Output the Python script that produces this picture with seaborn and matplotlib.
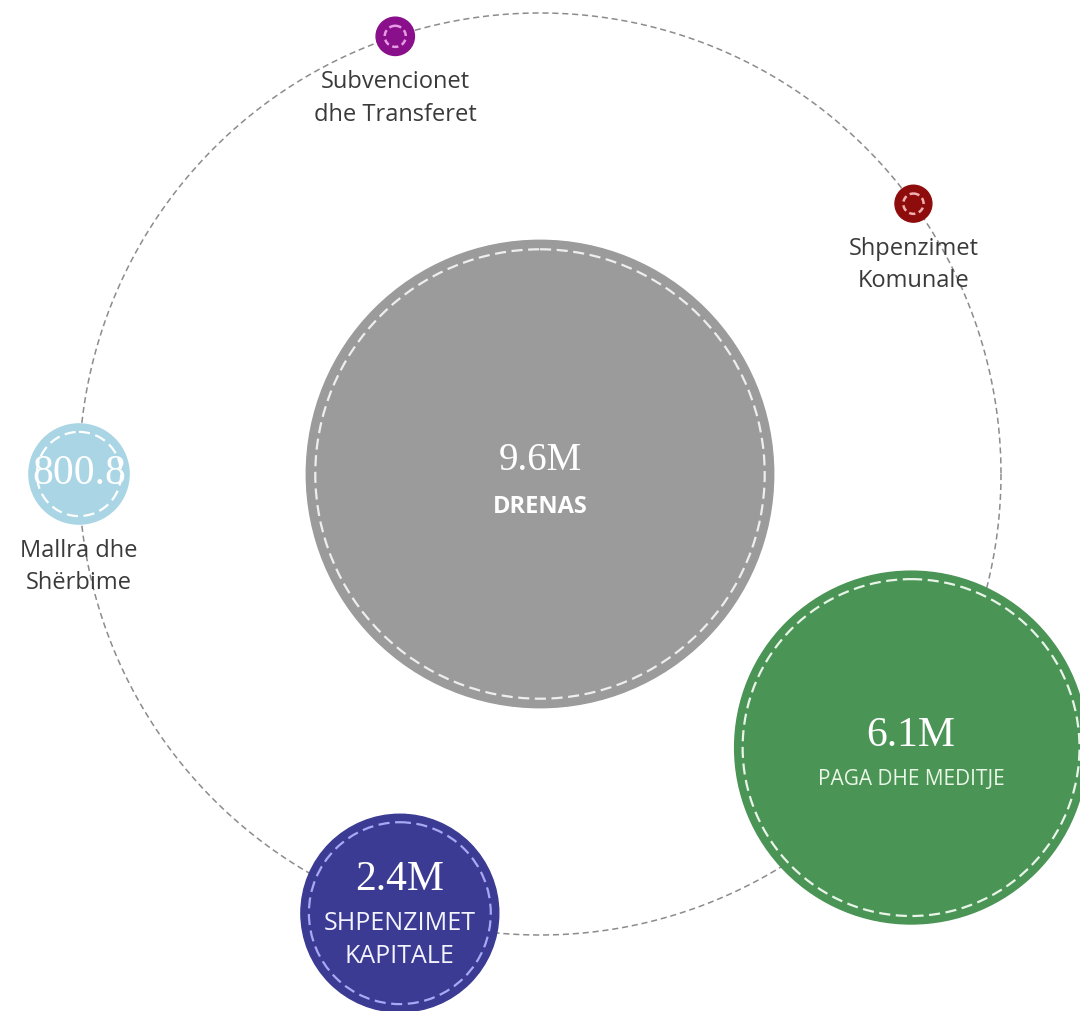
import matplotlib.pyplot as plt
import numpy as np
import seaborn as sns
from matplotlib.patches import Circle

# Drenas municipal budget, millions of euro
total_name = "DRENAS"
total_value = 9.6
total_label = "9.6M"

categories = ["Subvencionet\ndhe Transferet", "Shpenzimet\nKomunale", "Mallra dhe\nShërbime",
              "SHPENZIMET\nKAPITALE", "PAGA DHE MEDITJE"]
values = [0.17, 0.16, 0.8008, 2.4, 6.1]
value_labels = ["", "", "800.8", "2.4M", "6.1M"]

# layout (pixels) and style
W, H = 1080, 1011
cx, cy, orbit_r = 540, 474, 461
angles = [108.3, 35.9, 180.0, 252.3, 323.6]
colors = ["#8a0f8a", "#8e0c0c", "#a9d5e5", "#3b3b94", "#4a9455"]
ring_colors = ["#e69be6", "#f0b0b0", "#ffffff", "#a8a8f5", "#e8f5e8"]
text_colors = ["#3a3a3a", "#3a3a3a", "#3a3a3a", "#f4f4ff", "#eaf7e6"]
# vertical offsets of value / category text from bubble centre (None = below bubble)
val_dy = [None, None, 0, -33, -12]
cat_dy = [None, None, None, 27, 32]
cat_size = [17, 17, 17, 18, 15]
serif = ['Liberation Serif', 'DejaVu Serif']


def radius(v):
    # power scale for bubble size
    return 57.5 * v ** 0.62


sns.set_theme(style="white")
plt.rcParams['font.family'] = ['Open Sans', 'DejaVu Sans']

fig = plt.figure(figsize=(W / 100, H / 100), dpi=100)
ax = fig.add_axes([0, 0, 1, 1])
ax.set_xlim(0, W)
ax.set_ylim(H, 0)
ax.set_aspect('equal')
ax.axis('off')

# orbit
t = np.linspace(0, 2 * np.pi, 400)
ax.plot(cx + orbit_r * np.cos(t), cy + orbit_r * np.sin(t), color="#8c8c8c", lw=1.1,
        ls=(0, (4, 2.5)), zorder=1)

# central bubble
R0 = radius(total_value)
ax.add_patch(Circle((cx, cy), R0, color="#9b9b9b", zorder=2))
ax.add_patch(Circle((cx, cy), R0 - 9, fill=False, ec="#eeeeee", lw=1.6, ls=(0, (5, 2.5)), zorder=3))
ax.text(cx, cy - 14, total_label, ha='center', va='center', color='white', fontsize=28,
        family=serif, zorder=4)
ax.text(cx, cy + 33, total_name, ha='center', va='center', color='white', fontsize=17,
        fontweight='bold', zorder=4)

for i, (cat, v, lab, a) in enumerate(zip(categories, values, value_labels, angles)):
    x = cx + orbit_r * np.cos(np.radians(a))
    y = cy - orbit_r * np.sin(np.radians(a))
    r = radius(v)
    ax.add_patch(Circle((x, y), r, color=colors[i], zorder=2))
    if r > 30:
        ax.add_patch(Circle((x, y), r - 8, fill=False, ec=ring_colors[i], lw=1.6,
                            ls=(0, (5, 2.5)), zorder=3))
    else:
        ax.add_patch(Circle((x, y), r * 0.55, fill=False, ec=ring_colors[i], lw=1.8,
                            ls=(0, (2.5, 1.5)), zorder=3))

    if lab:
        ax.text(x, y + val_dy[i], lab, ha='center', va='center', color='white', fontsize=30,
                family=serif, zorder=4)
    if cat_dy[i] is None:
        ax.text(x, y + r + 15, cat, ha='center', va='top', color=text_colors[i],
                fontsize=cat_size[i], linespacing=1.45, zorder=4)
    else:
        ax.text(x, y + cat_dy[i], cat, ha='center', va='center', color=text_colors[i],
                fontsize=cat_size[i], linespacing=1.4, zorder=4)

fig.savefig("out.png", dpi=100, facecolor='white')
